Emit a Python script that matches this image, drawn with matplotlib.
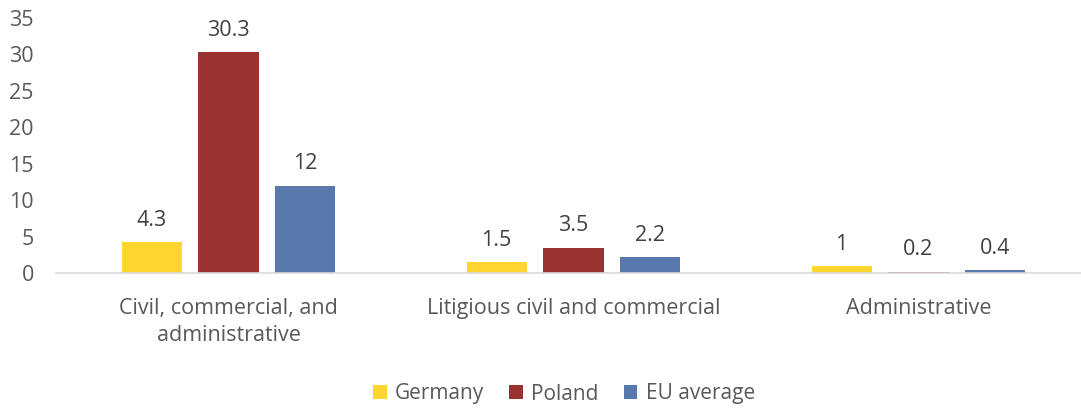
import matplotlib
matplotlib.use("Agg")
import matplotlib.pyplot as plt
import numpy as np

categories = ["Civil, commercial, and\nadministrative", "Litigious civil and commercial", "Administrative"]
series_names = ["Germany", "Poland", "EU average"]
germany = [4.3, 1.5, 1]
poland = [30.3, 3.5, 0.2]
eu_average = [12, 2.2, 0.4]
colors = ["#FFD52F", "#9B3232", "#5878AE"]
yticks = [0, 5, 10, 15, 20, 25, 30, 35]

plt.rcParams["font.family"] = ["Open Sans", "DejaVu Sans"]
text_color = "#595959"

W, H = 1081, 408
fig = plt.figure(figsize=(W / 100, H / 100), dpi=100)
left_px, right_px, top_px, bottom_px = 56, 1081, 18, 273
ax = fig.add_axes([left_px / W, 1 - bottom_px / H, (right_px - left_px) / W, (bottom_px - top_px) / H])

x = np.arange(len(categories))
width = 0.174
step = 0.223
offsets = [-step, 0, step]
for vals, name, col, off in zip([germany, poland, eu_average], series_names, colors, offsets):
    bars = ax.bar(x + off, vals, width, color=col, label=name)
    for b, v in zip(bars, vals):
        ax.annotate(f"{v:g}", (b.get_x() + b.get_width() / 2, v), xytext=(0, 8),
                    textcoords="offset points", ha="center", va="bottom",
                    fontsize=15.5, color="#404040")

ax.set_ylim(0, 35)
ax.set_xlim(-0.5, (right_px - left_px) / 345 - 0.5)
ax.set_yticks(yticks)
ax.set_xticks(x)
ax.set_xticklabels(categories)
ax.tick_params(axis="both", length=0, labelsize=15.5, colors=text_color)
ax.tick_params(axis="x", pad=18)
ax.tick_params(axis="y", pad=16)
for lbl in ax.get_xticklabels():
    lbl.set_linespacing(1.4)
for s in ["top", "right", "left"]:
    ax.spines[s].set_visible(False)
ax.spines["bottom"].set_color("#D9D9D9")
ax.spines["bottom"].set_linewidth(1.2)

leg = fig.legend(loc="center", bbox_to_anchor=(564 / W, 1 - 394 / H), ncol=3, frameon=False,
                 fontsize=15, handlelength=0.65, handleheight=0.65, handletextpad=0.4,
                 columnspacing=1.2, labelcolor=text_color)

fig.savefig("out.png", dpi=100)
